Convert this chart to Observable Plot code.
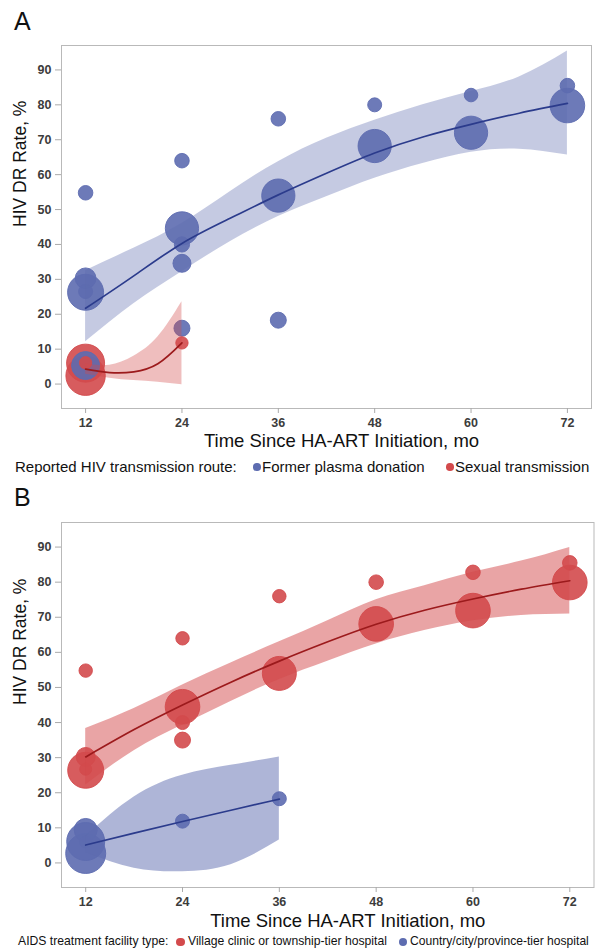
<!DOCTYPE html>
<html><head><meta charset="utf-8">
<script src="https://cdn.jsdelivr.net/npm/d3@7"></script>
<script src="https://cdn.jsdelivr.net/npm/@observablehq/plot@0.6"></script>
<style>
body{margin:0;background:#fff;font-family:"Liberation Sans",Arial,Helvetica,sans-serif;color:#111;}
#page{position:relative;width:595px;height:949px;overflow:hidden;background:#fff;}
.abs{position:absolute;white-space:nowrap;line-height:1;}
.panel{position:absolute;left:0;}
.mk{position:absolute;border-radius:50%;}
</style></head><body><div id="page"></div>
<script>
// ---------- shared axis data ----------
const xTicks = [12, 24, 36, 48, 60, 72];
const yTicks = [0, 10, 20, 30, 40, 50, 60, 70, 80, 90];
const xTitle = "Time Since HA-ART Initiation, mo";
const yTitle = "HIV DR Rate, %";

// ---------- Panel A : transmission route ----------
const aLegendTitle = "Reported HIV transmission route:";
const aGroups = ["Former plasma donation", "Sexual transmission"];
// Former plasma donation points (month, rate %, bubble size n)
const aPlasmaMonth = [12, 24, 36, 48, 60, 72, 72, 60, 48, 36, 24, 24, 24, 24, 36, 12, 12, 12, 12];
const aPlasmaRate  = [54.8, 64, 76, 80, 82.8, 85.5, 79.8, 72, 68.2, 54, 44.6, 40, 34.6, 16, 18.3, 30.3, 26.5, 26.3, 5.3];
const aPlasmaN     = [53, 53, 53, 49, 46, 53, 299, 276, 276, 276, 276, 58, 81, 64, 64, 108, 49, 324, 196];
// Sexual transmission points
const aSexMonth = [24, 12, 12, 12];
const aSexRate  = [11.8, 2.4, 6.0, 6.1];
const aSexN     = [38, 388, 361, 38];
// Fitted curves and confidence bands
const aPlasmaFitMonth = [12, 18, 24, 30, 36, 42, 48, 54, 60, 66, 72];
const aPlasmaFit      = [21.7, 31.0, 40.3, 47.5, 54.2, 60.4, 66.2, 70.8, 74.4, 77.6, 80.4];
const aPlasmaLo       = [12.1, 23.0, 32.2, 40.8, 48.0, 53.7, 59.0, 63.2, 66.4, 67.3, 65.6];
const aPlasmaHi       = [32.5, 38.9, 46.0, 55.1, 63.7, 70.4, 75.6, 80.0, 83.8, 88.0, 95.4];
const aSexFitMonth = [12, 15, 18, 21, 24];
const aSexFit      = [4.3, 3.3, 3.5, 5.8, 11.8];
const aSexLo       = [2.8, 1.7, 1.0, 0.5, -0.2];
const aSexHi       = [5.8, 5.4, 8.0, 13.5, 23.6];

// ---------- Panel B : facility type ----------
const bLegendTitle = "AIDS treatment facility type:";
const bGroups = ["Village clinic or township-tier hospital", "Country/city/province-tier hospital"];
const bVillageMonth = [12, 24, 36, 48, 60, 72, 72, 60, 48, 36, 24, 24, 24, 12, 12, 12];
const bVillageRate  = [54.8, 64, 76, 80, 82.8, 85.5, 79.9, 71.9, 68.1, 54, 44.5, 40, 35, 30.2, 26.7, 26.4];
const bVillageN     = [45, 45, 45, 53, 53, 53, 300, 300, 300, 289, 300, 49, 64, 90, 36, 324];
const bCityMonth = [12, 12, 12, 12, 24, 36];
const bCityRate  = [2.7, 6.1, 9.4, 6.0, 11.9, 18.3];
const bCityN     = [400, 361, 132, 36, 49, 49];
const bVillageFitMonth = [12, 18, 24, 30, 36, 42, 48, 54, 60, 66, 72];
const bVillageFit      = [30.2, 38.0, 45.0, 51.5, 57.5, 63.0, 68.0, 72.0, 75.2, 78.0, 80.4];
const bVillageLo       = [22.2, 32.0, 39.3, 46.0, 52.3, 57.5, 62.4, 66.2, 69.0, 70.5, 70.9];
const bVillageHi       = [38.3, 44.0, 50.7, 57.0, 63.0, 69.0, 75.0, 79.0, 82.8, 86.0, 89.9];
const bCityFitMonth = [12, 18, 24, 30, 36];
const bCityFit      = [5.1, 8.5, 11.8, 15.0, 18.2];
const bCityLo       = [3.0, -1.5, -2.5, -0.5, 6.5];
const bCityHi       = [7.5, 18.8, 25.0, 27.8, 30.2];

// ---------- helpers ----------
const BLUE = "#5d6cb0", RED = "#d34a4c";
const BLUE_LINE = "#2b3b8c", RED_LINE = "#9c1a1c";

function pts(months, rates, ns, group) {
  return months.map((m, i) => ({month: m, rate: rates[i], n: ns[i], group}));
}
function fit(months, f, lo, hi) {
  return months.map((m, i) => ({month: m, fit: f[i], lo: lo[i], hi: hi[i]}));
}

function makePanel(cfg) {
  const dots = cfg.points.slice().sort((a, b) => b.n - a.n);
  const marks = [
    Plot.frame({stroke: "#b9b9b9"}),
    Plot.dot(dots, {x: "month", y: "rate", r: "n", fill: "group", stroke: "group",
      fillOpacity: 0.9, strokeWidth: 1, strokeOpacity: 0.9}),
  ];
  for (const f of cfg.fits) {
    marks.push(Plot.areaY(f.data, {x: "month", y1: "lo", y2: "hi", fill: f.color,
      fillOpacity: cfg.bandOpacity, curve: "natural"}));
  }
  for (const f of cfg.fits) {
    marks.push(Plot.line(f.data, {x: "month", y: "fit", stroke: f.line, strokeWidth: 1.7, curve: "natural"}));
  }
  marks.push(
    Plot.axisY({ticks: yTicks, tickSize: 6, tickPadding: 4, fontSize: 12.5, fontWeight: "bold",
      fill: "#3c3c3c", stroke: "#aaa", label: null}),
    Plot.axisX({ticks: xTicks, tickSize: 5, tickPadding: 5, fontSize: 12.5, fontWeight: "bold",
      fill: "#3c3c3c", stroke: "#aaa", label: null}),
    Plot.text([xTitle], {text: d => d, frameAnchor: "bottom", dy: cfg.xTitleDy, dx: cfg.xTitleDx,
      fontSize: 18.5, fill: "#111"}),
    Plot.text([yTitle], {text: d => d, frameAnchor: "left", dx: -41, rotate: -90,
      fontSize: 17.5, fill: "#111"})
  );
  return Plot.plot({
    width: 595, height: cfg.height,
    marginLeft: 61, marginRight: cfg.marginRight, marginTop: 10, marginBottom: cfg.marginBottom,
    style: {fontFamily: "'Liberation Sans', Arial, sans-serif", background: "transparent", overflow: "visible"},
    x: {domain: [9, 75], label: null, axis: null},
    y: {domain: [-7, 97], label: null, axis: null},
    r: {type: "sqrt", domain: [0, 400], range: [0, 20]},
    color: {domain: cfg.groups, range: cfg.colors},
    marks
  });
}

const page = document.getElementById("page");
function addText(txt, left, top, size, extra) {
  const d = document.createElement("div");
  d.className = "abs";
  d.textContent = txt;
  d.style.left = left + "px"; d.style.top = top + "px"; d.style.fontSize = size + "px";
  if (extra) Object.assign(d.style, extra);
  page.appendChild(d);
  return d;
}
function addMarker(cx, cy, r, color) {
  const d = document.createElement("div");
  d.className = "mk";
  d.style.left = (cx - r) + "px"; d.style.top = (cy - r) + "px";
  d.style.width = (2 * r) + "px"; d.style.height = (2 * r) + "px";
  d.style.background = color;
  page.appendChild(d);
}

// Panel A
addText("A", 14, 9, 25);
const svgA = makePanel({
  height: 418, marginBottom: 45, marginRight: 4, xTitleDx: 15, xTitleDy: 38,
  groups: aGroups, colors: [BLUE, RED], bandOpacity: 0.36,
  points: [...pts(aPlasmaMonth, aPlasmaRate, aPlasmaN, aGroups[0]), ...pts(aSexMonth, aSexRate, aSexN, aGroups[1])],
  fits: [
    {data: fit(aPlasmaFitMonth, aPlasmaFit, aPlasmaLo, aPlasmaHi), color: BLUE, line: BLUE_LINE},
    {data: fit(aSexFitMonth, aSexFit, aSexLo, aSexHi), color: RED, line: RED_LINE}
  ]
});
const wA = document.createElement("div"); wA.className = "panel"; wA.style.top = "35px";
wA.appendChild(svgA); page.appendChild(wA);
addText(aLegendTitle, 15, 459, 15);
addMarker(257, 467, 3.8, BLUE);
addText(aGroups[0], 262, 459, 15);
addMarker(450, 467, 3.8, RED);
addText(aGroups[1], 455, 459, 15);

// Panel B
addText("B", 14, 485, 25);
const svgB = makePanel({
  height: 420, marginBottom: 45, marginRight: 1.5, xTitleDx: 20, xTitleDy: 39,
  groups: bGroups, colors: [RED, BLUE], bandOpacity: 0.5,
  points: [...pts(bVillageMonth, bVillageRate, bVillageN, bGroups[0]), ...pts(bCityMonth, bCityRate, bCityN, bGroups[1])],
  fits: [
    {data: fit(bVillageFitMonth, bVillageFit, bVillageLo, bVillageHi), color: RED, line: RED_LINE},
    {data: fit(bCityFitMonth, bCityFit, bCityLo, bCityHi), color: BLUE, line: BLUE_LINE}
  ]
});
const wB = document.createElement("div"); wB.className = "panel"; wB.style.top = "512px";
wB.appendChild(svgB); page.appendChild(wB);
addText(bLegendTitle, 18, 935, 12.2);
addMarker(180.5, 942, 4.3, RED);
addText(bGroups[0], 188, 935, 12.2);
addMarker(403, 942, 4.3, BLUE);
addText(bGroups[1], 410, 935, 12.1);
</script></body></html>
